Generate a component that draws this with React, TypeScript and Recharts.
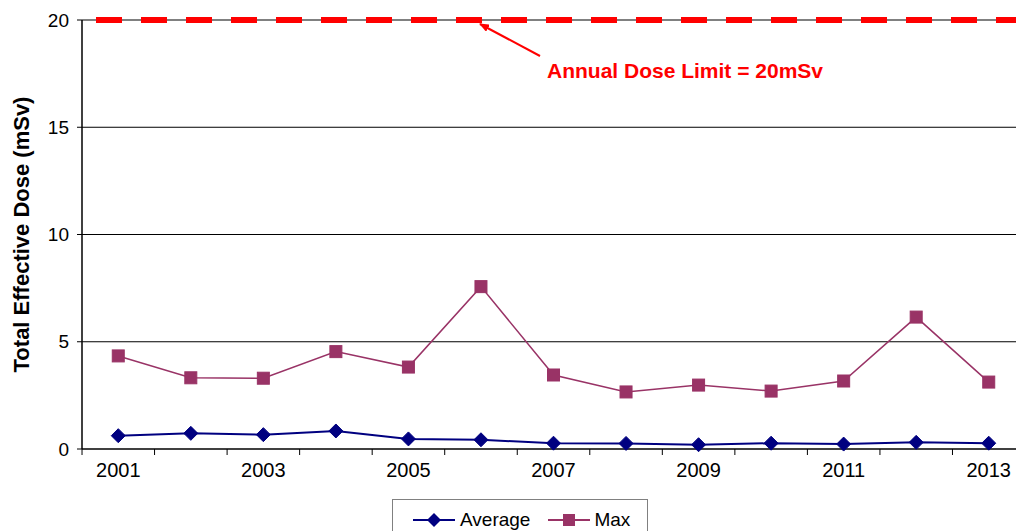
import React from 'react'
import { LineChart, Line, XAxis, YAxis, CartesianGrid, ReferenceLine, Legend } from 'recharts'

// values (mSv)
const years = [2001, 2002, 2003, 2004, 2005, 2006, 2007, 2008, 2009, 2010, 2011, 2012, 2013]
const averageDose = [0.62, 0.73, 0.67, 0.84, 0.47, 0.43, 0.27, 0.26, 0.2, 0.27, 0.23, 0.31, 0.27]
const maxDose = [4.34, 3.32, 3.3, 4.54, 3.82, 7.57, 3.45, 2.66, 2.98, 2.7, 3.17, 6.15, 3.12]
const yTicks = [0, 5, 10, 15, 20]
const doseLimit = 20

const FONT = 'Arial, "Liberation Sans", sans-serif'
const NAVY = '#000080'
const PLUM = '#993366'

const data = years.map((year, i) => ({ year, average: averageDose[i], max: maxDose[i] }))

const Diamond = (props: any) => {
  const { cx, cy } = props
  if (cx == null || cy == null) return null
  const r = 7
  return <polygon points={`${cx},${cy - r} ${cx + r},${cy} ${cx},${cy + r} ${cx - r},${cy}`} fill={NAVY} stroke={NAVY} />
}

const Square = (props: any) => {
  const { cx, cy } = props
  if (cx == null || cy == null) return null
  const s = 6
  return <rect x={cx - s} y={cy - s} width={s * 2} height={s * 2} fill={PLUM} stroke={PLUM} />
}

// tick marks fall between the years, labels only on odd years
const YearTick = (props: any) => {
  const { x, y, payload } = props
  const half = 36.25
  const show = payload.value % 2 === 1
  return (
    <g>
      <line x1={x - half} x2={x - half} y1={y - 6} y2={y} stroke="#000" />
      {show && (
        <text x={x} y={y + 22} textAnchor="middle" fontSize={20} fontFamily={FONT} fill="#000">
          {payload.value}
        </text>
      )}
    </g>
  )
}

const LegendBox = () => (
  <div
    style={{
      border: '1px solid #808080',
      width: 254,
      height: 40,
      display: 'flex',
      alignItems: 'center',
      fontFamily: FONT,
      fontSize: 19,
      color: '#000',
      background: '#fff',
    }}
  >
    <svg width={44} height={20} style={{ marginLeft: 20 }}>
      <line x1={0} x2={42} y1={10} y2={10} stroke={NAVY} strokeWidth={2} />
      <polygon points="21,3 28,10 21,17 14,10" fill={NAVY} />
    </svg>
    <span style={{ marginLeft: 3 }}>Average</span>
    <svg width={44} height={20} style={{ marginLeft: 18 }}>
      <line x1={0} x2={42} y1={10} y2={10} stroke={PLUM} strokeWidth={2} />
      <rect x={15} y={4} width={12} height={12} fill={PLUM} />
    </svg>
    <span style={{ marginLeft: 2 }}>Max</span>
  </div>
)

export default function App() {
  return (
    <div style={{ position: 'absolute', left: 0, top: 0, width: 1016, height: 531, overflow: 'hidden', background: '#fff' }}>
      <LineChart width={1025} height={531} data={data} margin={{ top: 20, right: 0, left: 0, bottom: 52 }}>
        <CartesianGrid vertical={false} horizontalValues={[5, 10, 15]} stroke="#000" />
        <XAxis
          type="number"
          dataKey="year"
          domain={[2000.5, 2013.5]}
          ticks={years}
          interval={0}
          tickLine={false}
          tickSize={6}
          tickMargin={0}
          height={30}
          axisLine={{ stroke: '#000', strokeWidth: 1.5 }}
          tick={<YearTick />}
        />
        <YAxis
          domain={[0, 20]}
          ticks={yTicks}
          width={82}
          tickSize={5}
          tickMargin={8}
          tickLine={{ stroke: '#000' }}
          axisLine={{ stroke: '#000', strokeWidth: 1.5 }}
          tick={{ fill: '#000', fontSize: 19, fontFamily: FONT }}
          label={{
            value: 'Total Effective Dose (mSv)',
            angle: -90,
            position: 'insideLeft',
            offset: 21,
            style: { textAnchor: 'middle', fontWeight: 'bold', fontSize: 22, fontFamily: FONT, fill: '#000' },
          }}
        />
        <ReferenceLine y={doseLimit} stroke="#808080" strokeWidth={2} />
        <ReferenceLine y={doseLimit} stroke="#ff0000" strokeWidth={6} strokeDasharray="26 19" strokeDashoffset={31} />
        <Legend
          verticalAlign="middle"
          align="center"
          layout="horizontal"
          content={<LegendBox />}
          wrapperStyle={{ position: 'absolute', left: 392, top: 499, width: 256 }}
        />
        <Line
          type="linear"
          dataKey="average"
          name="Average"
          stroke={NAVY}
          strokeWidth={2}
          dot={<Diamond />}
          activeDot={false}
          isAnimationActive={false}
        />
        <Line
          type="linear"
          dataKey="max"
          name="Max"
          stroke={PLUM}
          strokeWidth={1.5}
          dot={<Square />}
          activeDot={false}
          isAnimationActive={false}
        />
      </LineChart>
      <svg width={1016} height={531} style={{ position: 'absolute', left: 0, top: 0, pointerEvents: 'none' }}>
        <defs>
          <marker id="arrowHead" markerWidth={10} markerHeight={8} refX={9} refY={4} orient="auto" markerUnits="userSpaceOnUse">
            <polygon points="0,0 10,4 0,8" fill="#ff0000" />
          </marker>
        </defs>
        <line x1={540} y1={56} x2={480} y2={24} stroke="#ff0000" strokeWidth={2} markerEnd="url(#arrowHead)" />
        <text x={547} y={78} fill="#ff0000" fontWeight="bold" fontSize={21} fontFamily={FONT}>
          Annual Dose Limit = 20mSv
        </text>
      </svg>
    </div>
  )
}
